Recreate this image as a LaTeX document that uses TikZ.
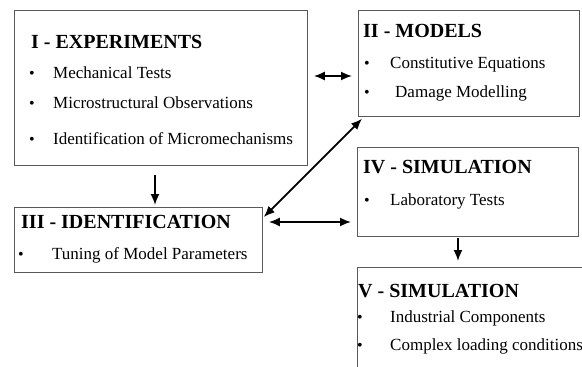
\documentclass[tikz,border=0pt]{standalone}
\usepackage{fontspec}
\setmainfont{Liberation Serif}
\usetikzlibrary{arrows.meta}
\tikzset{>={Latex[length=11pt,width=9pt]}}
\tikzset{
  box/.style={draw=black!65,line width=0.8pt,rectangle,inner sep=0pt,anchor=north west},
  title/.style={anchor=base west,inner sep=0pt,font=\fontsize{20}{24}\selectfont\bfseries},
  item/.style={anchor=base west,inner sep=0pt,font=\fontsize{17}{20}\selectfont},
  dot/.style={anchor=base west,inner sep=0pt,font=\fontsize{16}{19}\selectfont},
  link/.style={line width=1.7pt}
}
\newcommand*{\bulletitem}[5]
  {\node[dot] (#1dot) at (#2,#4) {\textbullet};
   \node[item] (#1) at (#3,#4) {#5}}

\begin{document}
\begin{tikzpicture}[x=1pt,y=-1pt]
\clip (0,0) rectangle (582,367);
\fill[white] (0,0) rectangle (582,367);
% boxes
\node[box,minimum width=293pt,minimum height=155pt] (exp) at (14,10) {};
\node[box,minimum width=221pt,minimum height=106pt] (models) at (358,10) {};
\node[box,minimum width=248pt,minimum height=65pt] (ident) at (14,207) {};
\node[box,minimum width=221pt,minimum height=89pt] (lab) at (357,147) {};
\node[box,minimum width=260pt,minimum height=130pt] (indus) at (357,267) {};
% I
\node[title] (exptitle) at (31,48) {I - EXPERIMENTS};
\bulletitem{mech}{29}{53}{78}{Mechanical Tests};
\bulletitem{micro}{29}{53}{108}{Microstructural Observations};
\bulletitem{mecha}{29}{53}{144}{Identification of Micromechanisms};
% II
\node[title] (modtitle) at (363,37) {II - MODELS};
\bulletitem{const}{364}{390}{68}{Constitutive Equations};
\bulletitem{dam}{364}{395}{97}{Damage Modelling};
% III
\node[title] (idtitle) at (21,228) {III - IDENTIFICATION};
\bulletitem{tune}{18}{52}{259}{Tuning of Model Parameters};
% IV
\node[title] (labtitle) at (363,173) {IV - SIMULATION};
\bulletitem{labt}{364}{390}{205}{Laboratory Tests};
% V
\node[title] (indtitle) at (358,297) {V - SIMULATION};
\bulletitem{comp}{357}{390}{322}{Industrial Components};
\bulletitem{load}{357}{390}{350}{Complex loading conditions};
% arrows
\draw[link,<->] ([shift={(6,66)}]exp.north east) -- ([shift={(-6,66)}]models.north west);
\draw[link,->] ([shift={(141,9)}]exp.south west) -- ([shift={(141,-2)}]ident.north west);
\draw[link,<->] ([shift={(1,10)}]ident.north east) -- ([shift={(4,2)}]models.south west);
\draw[link,<->] ([shift={(6,15)}]ident.north east) -- ([shift={(-6,75)}]lab.north west);
\draw[link,->] ([shift={(101,1)}]lab.south west) -- ([shift={(101,-6)}]indus.north west);
\end{tikzpicture}
\end{document}
